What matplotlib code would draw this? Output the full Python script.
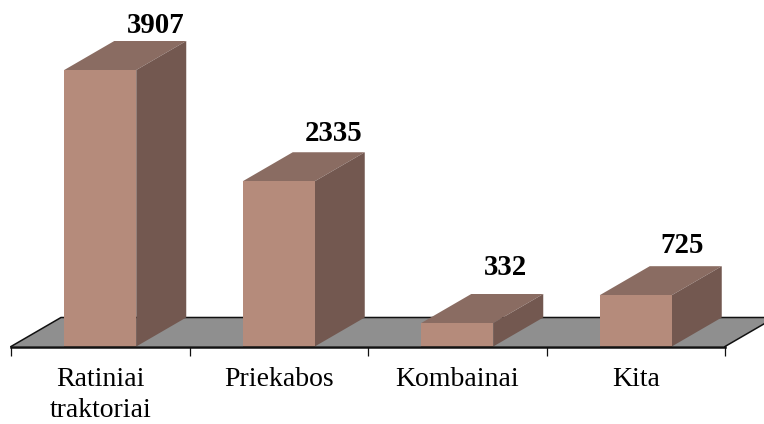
import matplotlib
matplotlib.use("Agg")
import matplotlib.pyplot as plt
from matplotlib.patches import Polygon

categories = ["Ratiniai\ntraktoriai", "Priekabos", "Kombainai", "Kita"]
values = [3907, 2335, 332, 725]
value_labels = ["3907", "2335", "332", "725"]
label_shift_x = [55, 55, 48, 46]
label_shift_y = [2, 5, 13, 7]

W, H = 764, 424
LEFT, RIGHT, BASE = 11, 725, 346.5
PX_PER_UNIT = 276.5 / 3907
CAT_PX = (RIGHT - LEFT) / len(categories)

FRONT = "#B58B7B"
TOP = "#8A6C62"
SIDE = "#735850"
FLOOR = "#8F8F8F"
LINE = "#111111"
SERIF = "Liberation Serif"

fig = plt.figure(figsize=(W / 100, H / 100), dpi=100, facecolor="white")
ax = fig.add_axes([LEFT / W, (H - BASE) / H, (RIGHT - LEFT) / W, BASE / H])
ax.set_xlim(0, len(categories))
ax.set_ylim(0, BASE / PX_PER_UNIT)
ax.patch.set_visible(False)

depth_x = 50 / CAT_PX
depth_y = 29 / PX_PER_UNIT
half_w = 36 / CAT_PX
n = len(categories)


def poly(pts, color, z):
    ax.add_patch(Polygon(pts, closed=True, facecolor=color, edgecolor="none",
                         zorder=z, clip_on=False))


# floor
poly([(0, 0), (n, 0), (n + depth_x, depth_y), (depth_x, depth_y)], FLOOR, 1)
ax.plot([0, depth_x, n + depth_x], [0, depth_y, depth_y], color=LINE, lw=1.1,
        zorder=2, clip_on=False, solid_joinstyle="miter")
ax.plot([n, n + depth_x], [0, depth_y], color=LINE, lw=1.1, zorder=2, clip_on=False)

# bars
for i, v in enumerate(values):
    c = i + 0.5
    x0, x1 = c - half_w, c + half_w
    poly([(x0, 0), (x1, 0), (x1, v), (x0, v)], FRONT, 4)
    poly([(x0, v), (x1, v), (x1 + depth_x, v + depth_y), (x0 + depth_x, v + depth_y)], TOP, 3)
    poly([(x1, 0), (x1 + depth_x, depth_y), (x1 + depth_x, v + depth_y), (x1, v)], SIDE, 3)
    ax.annotate(value_labels[i], xy=(c, v + depth_y),
                xytext=(label_shift_x[i] * 0.72, label_shift_y[i] * 0.72),
                textcoords="offset points", ha="center", va="bottom",
                fontfamily=SERIF, fontweight="bold", fontsize=20.8, color="black", zorder=6)

# axis
for s in ["top", "left", "right"]:
    ax.spines[s].set_visible(False)
ax.spines["bottom"].set_linewidth(1.8)
ax.spines["bottom"].set_color(LINE)
ax.spines["bottom"].set_zorder(5)
ax.set_yticks([])
ax.set_xticks(range(n + 1))
ax.set_xticklabels([])
ax.tick_params(axis="x", which="major", length=6.5, width=0.9, color=LINE, direction="out")
ax.set_xticks([i + 0.5 for i in range(n)], minor=True)
ax.set_xticklabels(categories, minor=True, fontfamily=SERIF, fontsize=20,
                   color="black", linespacing=1.3)
ax.tick_params(axis="x", which="minor", length=0, pad=15)

fig.savefig("out.png", dpi=100)
